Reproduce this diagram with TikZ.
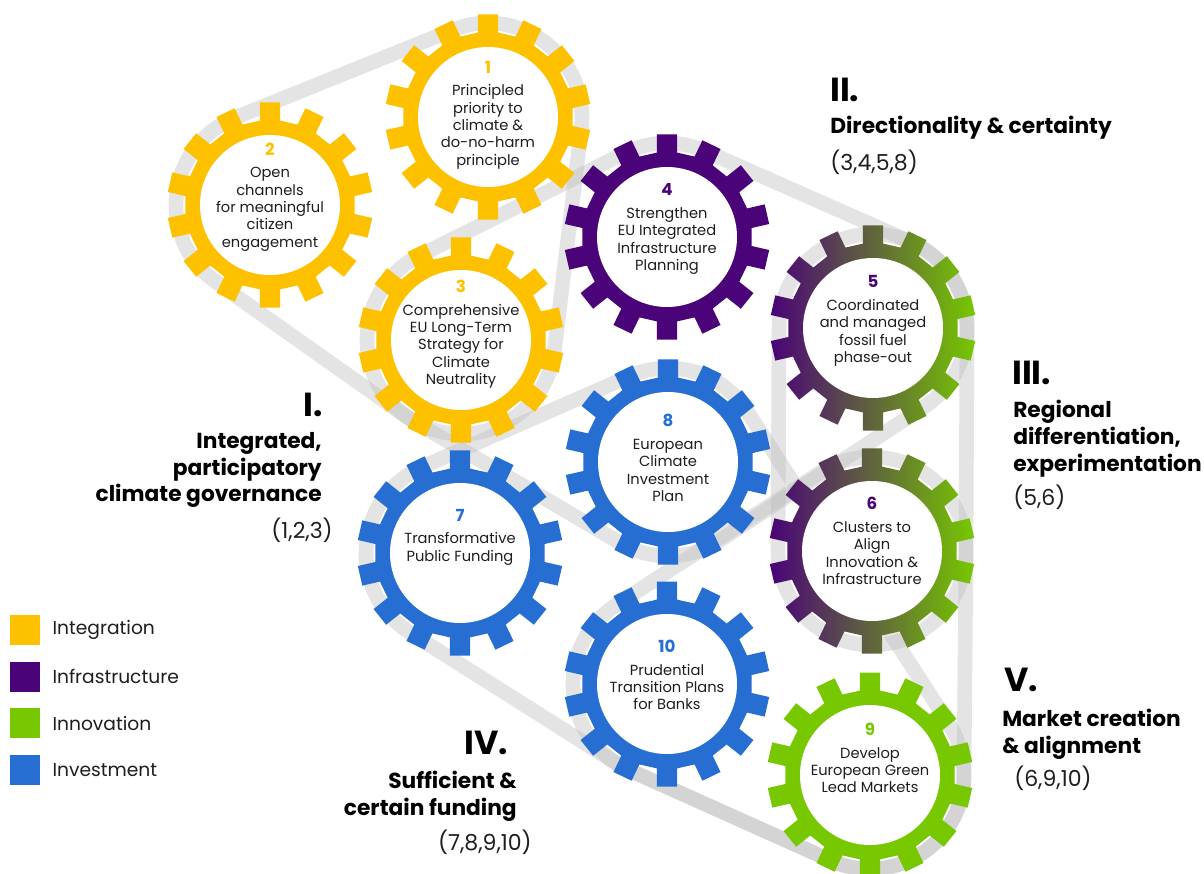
\documentclass[tikz,border=0pt]{standalone}
\usepackage{fontspec}
\setmainfont{Poppins}
\usetikzlibrary{calc, positioning}
\definecolor{cgyellow}{HTML}{FDC100}
\definecolor{cgpurple}{HTML}{4A0378}
\definecolor{cggreen}{HTML}{77C800}
\definecolor{cgblue}{HTML}{276ED3}
\definecolor{cgmid}{HTML}{5C4B57}
\definecolor{cggrey}{HTML}{BDBDBD}
\definecolor{cgink}{HTML}{1E1E1E}
\newcommand{\gearno}[2]{{\fontsize{12.5}{14}\selectfont\bfseries\color{#1}#2}\\[4pt]}
\tikzset{
  cgbelt/.style={draw=cggrey, line width=11pt, draw opacity=0.4, line join=round},
  cgtext/.style={align=center, text=cgink, font=\fontsize{11}{13}\selectfont, inner sep=0pt},
  cghead/.style={font=\fontsize{25}{28}\selectfont\bfseries, text=black, inner sep=0pt},
  cgsub/.style={font=\fontsize{16.3}{20}\selectfont\bfseries, text=black, inner sep=0pt},
  cgrefs/.style={font=\fontsize{16.5}{19}\selectfont, text=cgink, inner sep=0pt},
  cgkey/.style={minimum size=22.5pt, inner sep=0pt},
  cglabel/.style={font=\fontsize{14}{16}\selectfont, text=cgink, inner sep=0pt},
  pics/cggear/.style={code={
    \path[#1] ({90-6.8}:85) \foreach \k in {0,...,13}{
        -- ({90+\k*360/14-6.8}:85) -- ({90+\k*360/14-5.6}:103)
        -- ({90+\k*360/14+5.6}:103) -- ({90+\k*360/14+6.8}:85)} -- cycle;
    \fill[white] (0,0) circle[radius=70];
  }},
}

\begin{document}
\begin{tikzpicture}[x=0.75pt, y=0.75pt]
  \fill[white] (0,0) rectangle (1204,-874);
  \useasboundingbox (0,0) rectangle (1204,-874);

  % Gear centres.
  \coordinate (g1) at (488,-117);
  \coordinate (g2) at (270,-205);
  \coordinate (g3) at (461,-340);
  \coordinate (g4) at (667,-237);
  \coordinate (g5) at (873,-328);
  \coordinate (g6) at (872,-551);
  \coordinate (g7) at (460,-553);
  \coordinate (g8) at (668,-462);
  \coordinate (g9) at (870,-775);
  \coordinate (g10) at (667,-684);

  % Belts (behind the gears).
  \draw[cgbelt] ($(g2)+(112:94)$) -- ($(g1)+(112:94)$) arc[start angle=112, end angle=-6.9, radius=94]
    -- ($(g3)+(-6.9:94)$) arc[start angle=-6.9, end angle=-125.3, radius=94]
    -- ($(g2)+(-125.3:94)$) arc[start angle=-125.3, end angle=-248, radius=94] -- cycle;
  \draw[cgbelt] ($(g3)+(116.57:94)$) -- ($(g4)+(116.57:94)$) arc[start angle=116.57, end angle=66.17, radius=94]
    -- ($(g5)+(66.17:94)$) arc[start angle=66.17, end angle=-56.83, radius=94]
    -- ($(g8)+(-56.83:94)$) arc[start angle=-56.83, end angle=-120.51, radius=94]
    -- ($(g3)+(-120.51:94)$) arc[start angle=-120.51, end angle=-243.43, radius=94] -- cycle;
  \draw[cgbelt] ($(g5)+(179.74:94)$) arc[start angle=179.74, end angle=-0.26, radius=94]
    -- ($(g6)+(-0.26:94)$) arc[start angle=-0.26, end angle=-180.26, radius=94] -- cycle;
  \draw[cgbelt] ($(g7)+(113.63:94)$) -- ($(g8)+(113.63:94)$) arc[start angle=113.63, end angle=32.84, radius=94]
    -- ($(g9)+(32.84:94)$) arc[start angle=32.84, end angle=-114.15, radius=94]
    -- ($(g10)+(-114.15:94)$) arc[start angle=-114.15, end angle=-122.33, radius=94]
    -- ($(g7)+(-122.33:94)$) arc[start angle=-122.33, end angle=-246.37, radius=94] -- cycle;
  \draw[cgbelt] ($(g6)+(122.98:94)$) arc[start angle=122.98, end angle=-0.51, radius=94]
    -- ($(g9)+(-0.51:94)$) arc[start angle=-0.51, end angle=-114.15, radius=94]
    -- ($(g10)+(-114.15:94)$) arc[start angle=-114.15, end angle=-237.02, radius=94] -- cycle;

  % Gears.
  \pic at (g1) {cggear={fill=cgyellow}};
  \pic at (g2) {cggear={fill=cgyellow}};
  \pic at (g3) {cggear={fill=cgyellow}};
  \pic at (g4) {cggear={fill=cgpurple}};
  \pic at (g5) {cggear={left color=cgpurple, middle color=cgmid, right color=cggreen}};
  \pic at (g6) {cggear={left color=cgpurple, middle color=cgmid, right color=cggreen}};
  \pic at (g7) {cggear={fill=cgblue}};
  \pic at (g8) {cggear={fill=cgblue}};
  \pic at (g9) {cggear={fill=cggreen}};
  \pic at (g10) {cggear={fill=cgblue}};

  \node[cgtext] (t1) at ($(g1)+(0,2)$) {\gearno{cgyellow}{1}Principled\\priority to\\climate \&\\do-no-harm\\principle};
  \node[cgtext] (t2) at ($(g2)+(0,8)$) {\gearno{cgyellow}{2}Open\\channels\\for meaningful\\citizen\\engagement};
  \node[cgtext] (t3) at ($(g3)+(0,6)$) {\gearno{cgyellow}{3}Comprehensive\\EU Long-Term\\Strategy for\\Climate\\Neutrality};
  \node[cgtext] (t4) at ($(g4)+(0,8)$) {\gearno{cgpurple}{4}Strengthen\\EU Integrated\\Infrastructure\\Planning};
  \node[cgtext] (t5) at ($(g5)+(0,7)$) {\gearno{cgpurple}{5}Coordinated\\and managed\\fossil fuel\\phase-out};
  \node[cgtext] (t6) at ($(g6)+(0,10)$) {\gearno{cgpurple}{6}Clusters to\\Align\\Innovation \&\\Infrastructure};
  \node[cgtext] (t7) at ($(g7)+(0,16)$) {\gearno{cgblue}{7}Transformative\\Public Funding};
  \node[cgtext] (t8) at ($(g8)+(0,4)$) {\gearno{cgblue}{8}European\\Climate\\Investment\\Plan};
  \node[cgtext] (t9) at ($(g9)+(0,17)$) {\gearno{cggreen}{9}Develop\\European Green\\Lead Markets};
  \node[cgtext] (t10) at ($(g10)+(0,9)$) {\gearno{cgblue}{10}Prudential\\Transition Plans\\for Banks};

  % Section headings.
  \node[cghead, anchor=east] (h1) at (323,-405) {I.};
  \node[cgsub, anchor=north east, align=right] (s1) at (322,-432) {Integrated,\\participatory\\climate governance};
  \node[cgrefs, anchor=east] (r1) at (333,-530) {(1,2,3)};

  \node[cghead, anchor=west] (h2) at (830,-90) {II.};
  \node[cgsub, anchor=west] (s2) at (830,-128) {Directionality \& certainty};
  \node[cgrefs, anchor=west] (r2) at (830,-162) {(3,4,5,8)};

  \node[cghead, anchor=west] (h3) at (1012,-373) {III.};
  \node[cgsub, anchor=north west, align=left] (s3) at (1013,-400) {Regional\\differentiation,\\experimentation};
  \node[cgrefs, anchor=west] (r3) at (1013,-497) {(5,6)};

  \node[cghead, anchor=east] (h4) at (508,-743) {IV.};
  \node[cgsub, anchor=north east, align=right] (s4) at (517,-771) {Sufficient \&\\certain funding};
  \node[cgrefs, anchor=east] (r4) at (532,-842) {(7,8,9,10)};

  \node[cghead, anchor=west] (h5) at (1004,-680) {V.};
  \node[cgsub, anchor=north west, align=left] (s5) at (1002,-709) {Market creation\\\& alignment};
  \node[cgrefs, anchor=west] (r5) at (1014,-778) {(6,9,10)};

  % Legend.
  \node[cgkey, fill=cgyellow] (k1) at (25,-630) {};
  \node[cgkey, fill=cgpurple, below=12pt of k1] (k2) {};
  \node[cgkey, fill=cggreen, below=12pt of k2] (k3) {};
  \node[cgkey, fill=cgblue, below=12pt of k3] (k4) {};
  \node[cglabel, right=9pt of k1] (k1txt) {Integration};
  \node[cglabel, right=9pt of k2] (k2txt) {Infrastructure};
  \node[cglabel, right=9pt of k3] (k3txt) {Innovation};
  \node[cglabel, right=9pt of k4] (k4txt) {Investment};
\end{tikzpicture}
\end{document}
